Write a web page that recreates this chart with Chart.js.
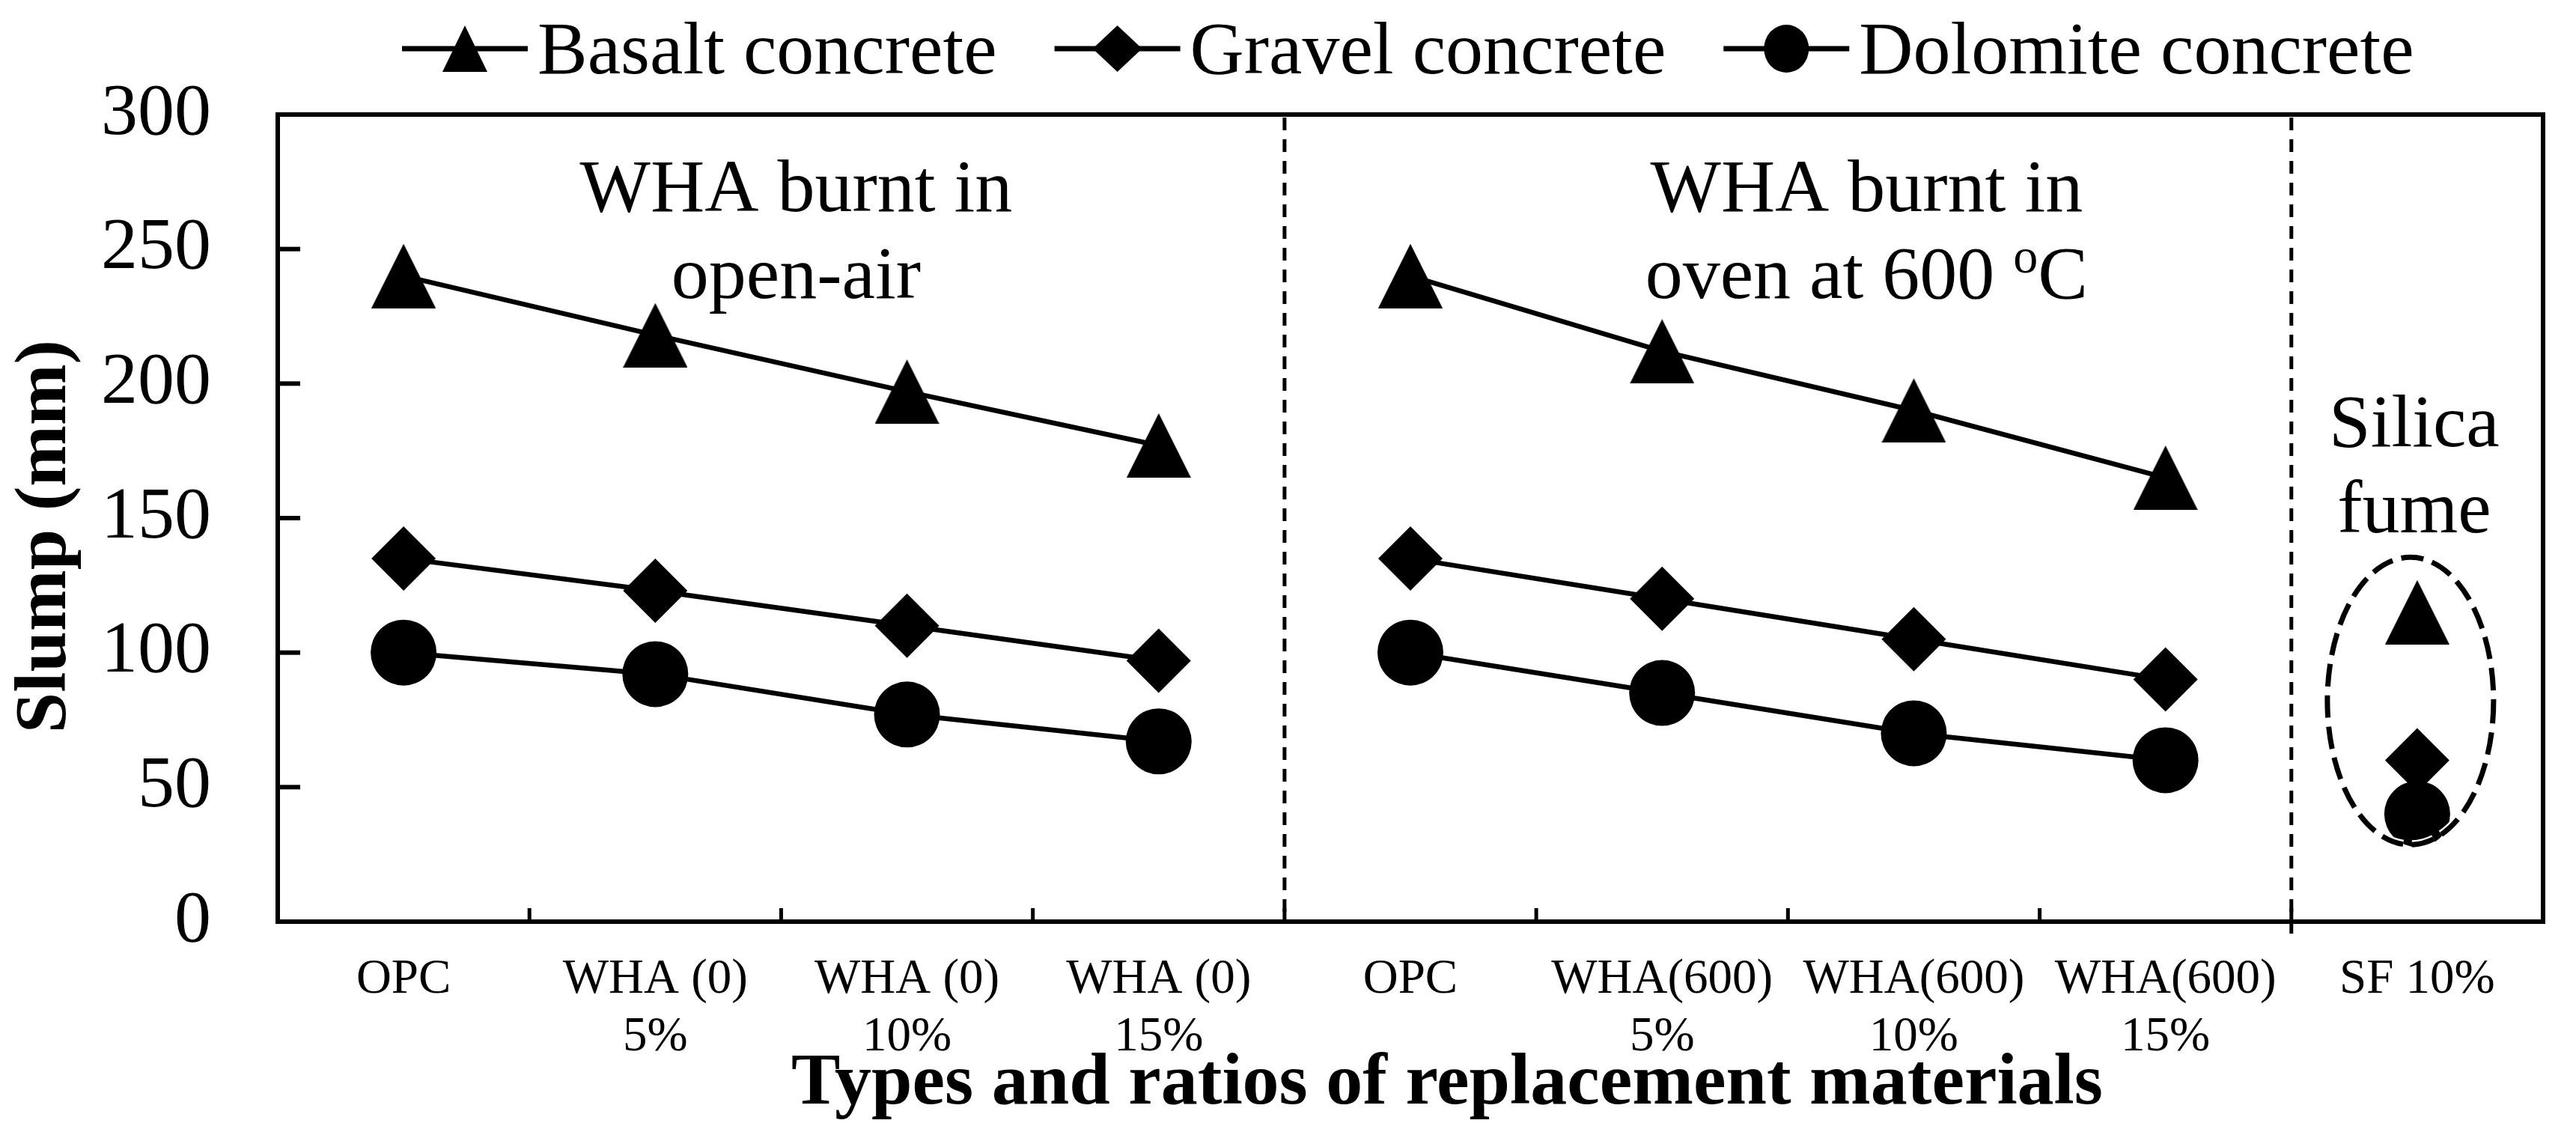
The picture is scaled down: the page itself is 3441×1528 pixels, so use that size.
<!DOCTYPE html>
<html lang="en">
<head>
  <meta charset="UTF-8">
  <title>Slump</title>
  <script src="https://cdn.jsdelivr.net/npm/chart.js@4.4.1/dist/chart.umd.min.js"></script>
  <style>
    html, body { margin: 0; padding: 0; background: #fff; }
    #wrap { width: 3441px; height: 1528px; position: relative; }
  </style>
</head>
<body>
  <div id="wrap"><canvas id="slump-chart"></canvas></div>

  <script>
    // data
    const categories = [
      ['OPC'], ['WHA (0)', '5%'], ['WHA (0)', '10%'], ['WHA (0)', '15%'],
      ['OPC'], ['WHA(600)', '5%'], ['WHA(600)', '10%'], ['WHA(600)', '15%'],
      ['SF 10%']
    ];
    const seriesNames = ['Basalt concrete', 'Gravel concrete', 'Dolomite concrete'];
    const basalt = [240, 218, 197, 177, 240, 212, 190, 165, 115];
    const gravel = [135, 123, 110, 97, 135, 120, 105, 90, 60];
    const dolomite = [100, 92, 77, 67, 100, 85, 70, 60, 40];
    const yTicks = [0, 50, 100, 150, 200, 250, 300];
    const groupEnds = [3, 7]; // no line drawn after these points

    const FONT = "'Liberation Serif', 'Times New Roman', serif";
    Chart.defaults.font.family = FONT;
    Chart.defaults.color = '#000';

    // Excel style triangle marker (square box, apex on top)
    function triangleMarker(w, h) {
      const c = document.createElement('canvas');
      c.width = w; c.height = h;
      const g = c.getContext('2d');
      g.fillStyle = '#000';
      g.beginPath();
      g.moveTo(w / 2, 0);
      g.lineTo(w, h);
      g.lineTo(0, h);
      g.closePath();
      g.fill();
      return c;
    }

    function drawLegendMarker(ctx, i, cx, cy) {
      ctx.beginPath();
      if (i === 0) {
        ctx.moveTo(cx, cy - 31); ctx.lineTo(cx + 30, cy + 31); ctx.lineTo(cx - 30, cy + 31);
      } else if (i === 1) {
        ctx.moveTo(cx - 33, cy); ctx.lineTo(cx, cy - 31); ctx.lineTo(cx + 33, cy); ctx.lineTo(cx, cy + 31);
      } else {
        ctx.ellipse(cx, cy, 30, 32, 0, 0, Math.PI * 2);
      }
      ctx.closePath();
      ctx.fill();
    }

    const decorations = {
      id: 'decorations',
      beforeDatasetsDraw(chart) {
        const { ctx, chartArea: a, scales: { x, y } } = chart;
        ctx.save();
        ctx.strokeStyle = '#000';

        // dashed separators between groups
        ctx.lineWidth = 5;
        ctx.setLineDash([17, 12]);
        groupEnds.forEach((idx, k) => {
          const px = (x.getPixelForValue(idx) + x.getPixelForValue(idx + 1)) / 2;
          ctx.beginPath();
          ctx.moveTo(px, a.top + 4);
          ctx.lineTo(px, a.bottom + (k === 1 ? 28 : 0));
          ctx.stroke();
        });
        ctx.setLineDash([]);

        // inner tick marks
        ctx.lineWidth = 6;
        yTicks.forEach(v => {
          if (v === 0 || v === 300) return;
          const py = y.getPixelForValue(v);
          ctx.beginPath(); ctx.moveTo(a.left, py); ctx.lineTo(a.left + 30, py); ctx.stroke();
        });
        ctx.lineWidth = 5;
        for (let i = 0; i < categories.length - 1; i++) {
          const px = (x.getPixelForValue(i) + x.getPixelForValue(i + 1)) / 2;
          ctx.beginPath(); ctx.moveTo(px, a.bottom); ctx.lineTo(px, a.bottom - 18); ctx.stroke();
        }

        // plot frame
        ctx.lineWidth = 6;
        ctx.strokeRect(a.left, a.top, a.right - a.left, a.bottom - a.top);
        ctx.restore();
      },
      afterDatasetsDraw(chart) {
        const { ctx, chartArea: a, scales: { x, y } } = chart;
        ctx.save();
        ctx.fillStyle = '#000';
        ctx.textAlign = 'center';
        ctx.textBaseline = 'alphabetic';
        ctx.font = '100px ' + FONT;

        // group captions
        const c1 = x.getPixelForValue(1.5) + 20;
        const c2 = x.getPixelForValue(5.5) + 105;
        const c3 = x.getPixelForValue(8) - 4;
        ctx.fillText('WHA burnt in', c1, a.top + 129);
        ctx.fillText('open-air', c1, a.top + 245);
        ctx.fillText('WHA burnt in', c2, a.top + 129);

        // "oven at 600 oC" with superscript o
        const main = 'oven at 600 ';
        ctx.textAlign = 'left';
        const wMain = ctx.measureText(main).width;
        const wC = ctx.measureText('C').width;
        ctx.font = '66px ' + FONT;
        const wSup = ctx.measureText('o').width;
        let sx = c2 - (wMain + wSup + wC) / 2;
        const base2 = a.top + 245;
        ctx.font = '100px ' + FONT;
        ctx.fillText(main, sx, base2);
        ctx.font = '66px ' + FONT;
        ctx.fillText('o', sx + wMain, base2 - 34);
        ctx.font = '100px ' + FONT;
        ctx.fillText('C', sx + wMain + wSup, base2);

        ctx.textAlign = 'center';
        ctx.fillText('Silica', c3, 596);
        ctx.fillText('fume', c3, 711);

        // dashed ellipse round the silica fume points
        const ex = x.getPixelForValue(8) - 9;
        const ey = y.getPixelForValue(82);
        ctx.setLineDash([30, 12]);
        ctx.strokeStyle = '#fff';
        ctx.lineWidth = 12;
        ctx.beginPath(); ctx.ellipse(ex, ey, 111, 192, 0, 0, Math.PI * 2); ctx.stroke();
        ctx.strokeStyle = '#000';
        ctx.lineWidth = 7;
        ctx.beginPath(); ctx.ellipse(ex, ey, 111, 192, 0, 0, Math.PI * 2); ctx.stroke();
        ctx.setLineDash([]);

        // legend
        ctx.font = '100px ' + FONT;
        ctx.textAlign = 'left';
        const ly = 65;
        let lx = 537;
        seriesNames.forEach((name, i) => {
          ctx.lineWidth = 7;
          ctx.beginPath(); ctx.moveTo(lx, ly); ctx.lineTo(lx + 168, ly); ctx.stroke();
          drawLegendMarker(ctx, i, lx + 84, ly);
          ctx.fillText(name, lx + 181, 98);
          lx += 181 + ctx.measureText(name).width + 77;
        });
        ctx.restore();
      }
    };

    const skipBetweenGroups = {
      borderColor: c => groupEnds.includes(c.p0DataIndex) ? 'rgba(0,0,0,0)' : '#000'
    };

    function series(label, data, pointStyle, radius, order) {
      return {
        label: label,
        data: data,
        borderColor: '#000',
        backgroundColor: '#000',
        borderWidth: 6.5,
        pointStyle: pointStyle,
        pointRadius: radius,
        pointHoverRadius: radius,
        pointBackgroundColor: '#000',
        pointBorderWidth: 0,
        tension: 0,
        fill: false,
        order: order,
        segment: skipBetweenGroups
      };
    }

    const ctx = document.getElementById('slump-chart').getContext('2d');
    new Chart(ctx, {
      type: 'line',
      data: {
        labels: categories,
        datasets: [
          series(seriesNames[0], basalt, triangleMarker(86, 86), 43, 2),
          series(seriesNames[1], gravel, 'rectRot', 43, 1),
          series(seriesNames[2], dolomite, 'circle', 44, 0)
        ]
      },
      options: {
        responsive: true,
        maintainAspectRatio: false,
        animation: false,
        events: [],
        layout: { padding: { top: 153, right: 32, left: 0, bottom: 0 } },
        plugins: {
          legend: { display: false },
          tooltip: { enabled: false }
        },
        scales: {
          x: {
            type: 'category',
            offset: true,
            grid: { display: false, drawTicks: false },
            border: { display: false },
            ticks: {
              color: '#000',
              font: { size: 65, lineHeight: 1.185 },
              padding: 39,
              autoSkip: false,
              maxRotation: 0,
              minRotation: 0
            },
            title: {
              display: true,
              text: '    Types and ratios of replacement materials',
              color: '#000',
              font: { size: 98, weight: 'bold', lineHeight: 1.2 },
              padding: { top: 0, bottom: 21 }
            },
            afterFit: s => { s.height = 297; }
          },
          y: {
            min: 0,
            max: 300,
            grid: { display: false, drawTicks: false },
            border: { display: false },
            ticks: {
              color: '#000',
              font: { size: 98 },
              padding: 89
            },
            afterBuildTicks: s => { s.ticks = yTicks.map(v => ({ value: v })); },
            title: {
              display: true,
              text: 'Slump (mm)  ',
              color: '#000',
              font: { size: 98, weight: 'bold', lineHeight: 1.2 },
              padding: { top: 3, bottom: 0 }
            },
            afterFit: s => { s.width = 371; }
          }
        }
      },
      plugins: [decorations]
    });
  </script>
</body>
</html>
